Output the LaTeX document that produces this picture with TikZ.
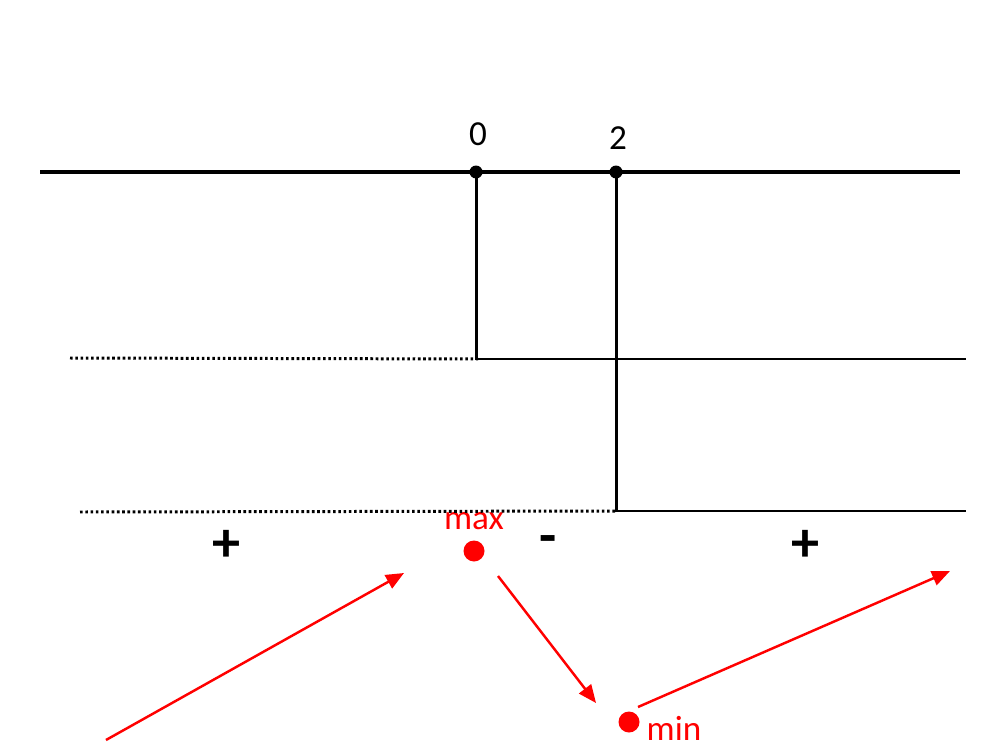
\documentclass[tikz,border=0pt]{standalone}
\usepackage{fontspec}
\setmainfont{Carlito}
\usetikzlibrary{arrows.meta, positioning, calc}

\begin{document}
\begin{tikzpicture}[
    x=0.02cm, y=-0.02cm,
    % --- STYLES ---
    axis/.style={line width=2.4pt, black},
    branch/.style={line width=1.7pt, black},
    guide/.style={line width=1.7pt, black, dash pattern=on 1.5pt off 1.5pt},
    point/.style={circle, fill=black, inner sep=0pt, minimum size=0.26cm},
    extremum/.style={circle, fill=red, inner sep=0pt, minimum size=0.42cm},
    label/.style={font=\fontsize{20}{22}\selectfont, inner sep=0pt},
    sign/.style={font=\fontsize{32}{34}\selectfont\bfseries, inner sep=0pt},
    redlabel/.style={label, text=red},
    arrow/.style={-{Triangle[length=0.36cm, width=0.3cm]}, line width=1.4pt, red}
]

    \useasboundingbox (0,0) rectangle (1000,750);

    % --- NODES ---
    \coordinate (axisL) at (40,172);
    \coordinate (axisR) at (960,172);
    \node[point] (zero) at (476,172) {};
    \node[point] (two) at (616,172) {};
    \node[label] (zerolab) at (478,134) {0};
    \node[label] (twolab) at (618,138) {2};

    % step corners and free ends
    \coordinate (stepA) at (478,359);
    \coordinate (stepAR) at (966,359);
    \coordinate (dotA) at (70,358);
    \coordinate (stepB) at (616,511);
    \coordinate (stepBR) at (966,511);
    \coordinate (dotB) at (80,512);

    % signs
    \node[sign] (plusL) at (226,546) {+};
    \node[sign] (minus) at (548,545) {-};
    \node[sign] (plusR) at (805,546) {+};

    % extrema
    \node[extremum] (max) at (474,551) {};
    \node[redlabel] (maxlab) at (474,521) {max};
    \node[extremum] (min) at (629,722) {};
    \node[redlabel] (minlab) at (674,728) {min};

    % arrow ends
    \coordinate (upA) at (106,740);
    \coordinate (upB) at (404,573);
    \coordinate (downA) at (498,576);
    \coordinate (downB) at (596,703);
    \coordinate (riseA) at (638,707);
    \coordinate (riseB) at (950,571);

    % --- LINES ---
    \draw[axis] (axisL) -- (axisR);
    \draw[branch] (zero.center) -- (zero.center |- stepA) -- (stepAR);
    \draw[branch] (two.center) -- (stepB) -- (stepBR);
    \draw[guide] (dotA) -- (stepA);
    \draw[guide] (dotB) -- (stepB);

    % --- MONOTONY ---
    \draw[arrow] (upA) -- (upB);
    \draw[arrow] (downA) -- (downB);
    \draw[arrow] (riseA) -- (riseB);

\end{tikzpicture}
\end{document}
